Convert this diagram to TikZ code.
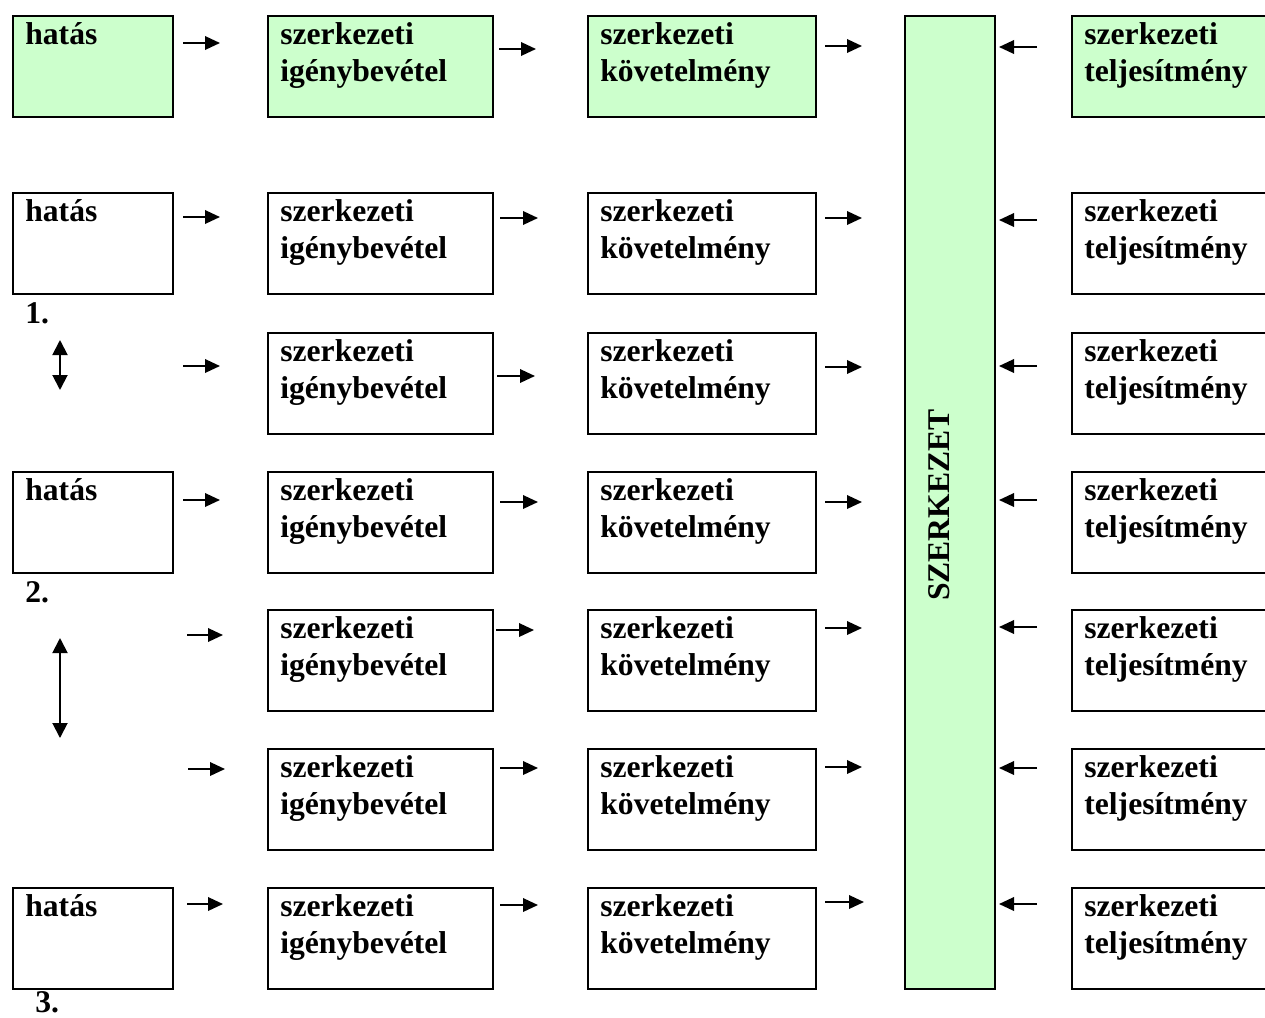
\documentclass[tikz,border=0pt]{standalone}
\usepackage{fontspec}
\setmainfont{Liberation Serif}
\usetikzlibrary{arrows.meta}
\definecolor{halvanyzold}{RGB}{204,255,204}
\tikzset{
  doboz/.style={draw, line width=1.1pt, rectangle, inner sep=0pt, anchor=north west},
  zold/.style={fill=halvanyzold},
  felirat/.style={font=\bfseries\fontsize{18}{21}\selectfont, align=left, inner sep=0pt, anchor=north west},
  nyil/.style={line width=1.1pt, -{Triangle[length=0.3cm,width=0.27cm]}},
  ketnyil/.style={line width=1.1pt, {Triangle[length=0.3cm,width=0.3cm]}-{Triangle[length=0.3cm,width=0.3cm]}},
}
% style, name, x, y, width, height, text
\newcommand{\blokk}[7]{%
  \node[doboz,#1,minimum width=#5*0.02cm,minimum height=#6*0.02cm] (#2) at (#3,#4) {};
  \node[felirat] (#2t) at ([xshift=0.26cm,yshift=-0.14cm]#2.north west) {#7};
}
\begin{document}
\begin{tikzpicture}[x=0.02cm,y=-0.02cm]
\useasboundingbox (0,0) rectangle (1265,1018);
% top row (green)
\blokk{zold}{hatas1}{12}{15}{160}{101}{hatás}
\blokk{zold}{igeny1}{267}{15}{225}{101}{szerkezeti\\igénybevétel}
\blokk{zold}{kov1}{587}{15}{228}{101}{szerkezeti\\követelmény}
\blokk{zold}{telj1}{1071}{15}{200}{101}{szerkezeti\\teljesítmény}
% the structure
\node[doboz,zold,minimum width=90*0.02cm,minimum height=973*0.02cm] (szerk) at (904,15) {};
\node[font=\bfseries\fontsize{18}{21}\selectfont, rotate=90] (szerkt) at (939,505) {SZERKEZET};
% the effects
\foreach \t/\n in {192/2,471/4,887/7}
  \blokk{}{hatas\n}{12}{\t}{160}{101}{hatás};
\foreach \t [count=\n from 2] in {192,332,471,609,748,887} {
  \blokk{}{igeny\n}{267}{\t}{225}{101}{szerkezeti\\igénybevétel}
  \blokk{}{kov\n}{587}{\t}{228}{101}{szerkezeti\\követelmény}
  \blokk{}{telj\n}{1071}{\t}{200}{101}{szerkezeti\\teljesítmény}
}
% numbers
\node[felirat, anchor=base west] (sz1) at (25,323) {1.};
\node[felirat, anchor=base west] (sz2) at (25,602) {2.};
\node[felirat, anchor=base west] (sz3) at (35,1012) {3.};
% arrows
\foreach \a/\b/\y in {183/220/43, 183/220/217, 183/220/366, 183/220/500, 187/223/635, 188/225/769, 187/223/904}
  \draw[nyil] (\a,\y) -- (\b,\y);
\foreach \a/\b/\y in {499/536/49, 500/538/218, 497/535/376, 500/538/502, 496/534/630, 500/538/768, 500/538/905}
  \draw[nyil] (\a,\y) -- (\b,\y);
\foreach \a/\b/\y in {825/862/46, 825/862/218, 825/862/367, 825/862/502, 825/862/628, 825/862/767, 825/864/902}
  \draw[nyil] (\a,\y) -- (\b,\y);
\foreach \y in {47,220,366,500,627,768,904}
  \draw[nyil] (1037,\y) -- (999,\y);
\draw[ketnyil] (60,340) -- (60,390);
\draw[ketnyil] (60,638) -- (60,738);
\end{tikzpicture}
\end{document}
